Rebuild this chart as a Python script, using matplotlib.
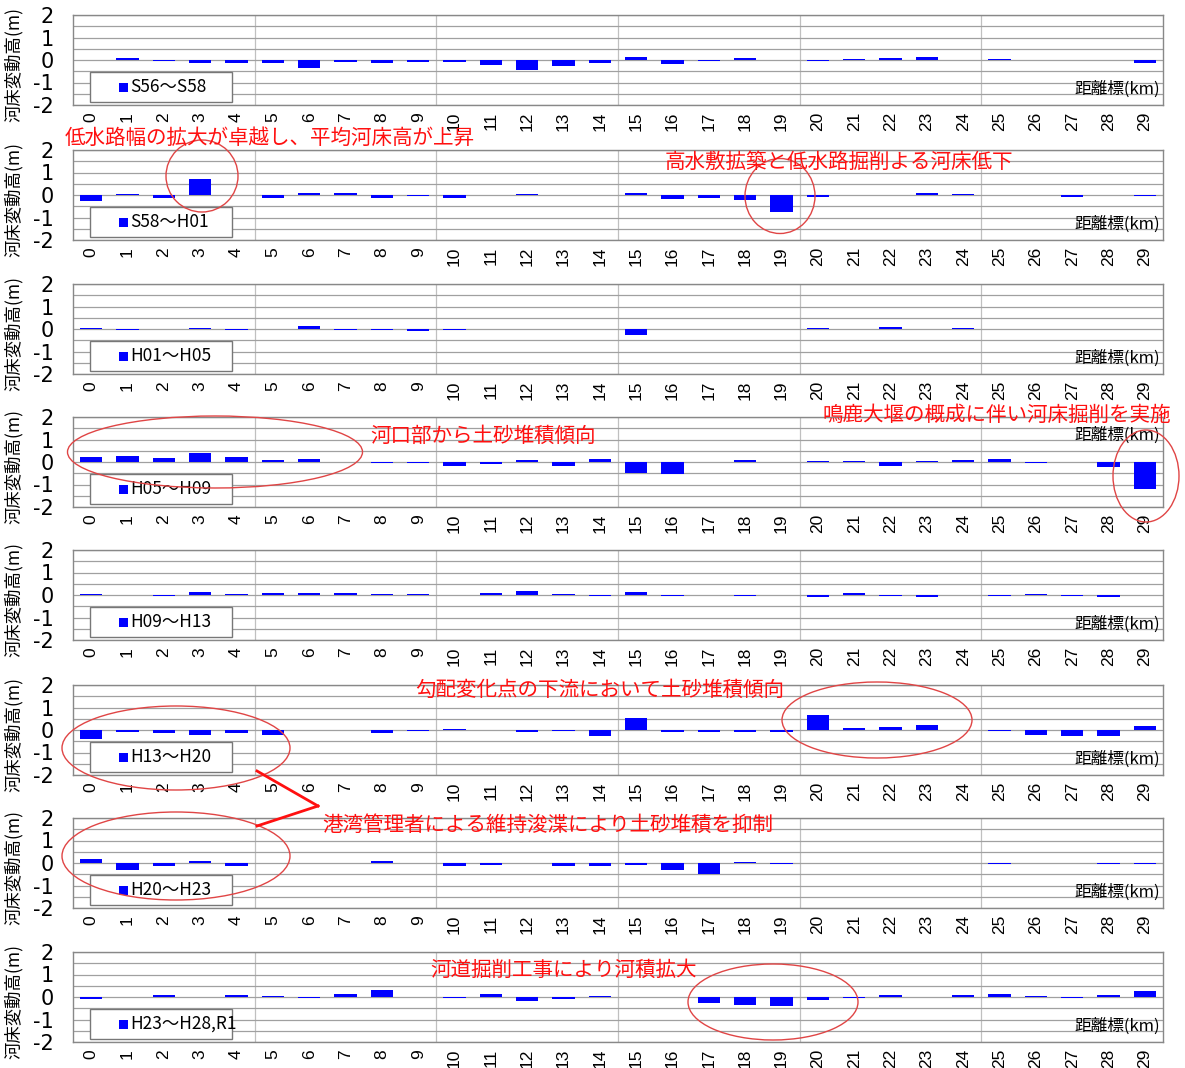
import matplotlib
matplotlib.use('Agg')
import matplotlib.pyplot as plt
from matplotlib.patches import Rectangle, Ellipse
from matplotlib.lines import Line2D

plt.rcParams['font.family'] = ['Noto Sans CJK JP', 'DejaVu Sans']

W, H = 1185, 1068

km_labels = [str(i) for i in range(30)]
periods = ["S56～S58", "S58～H01", "H01～H05", "H05～H09",
           "H09～H13", "H13～H20", "H20～H23", "H23～H28,R1"]

s56_s58 = [0.00, 0.08, -0.05, -0.15, -0.15, -0.13, -0.35, -0.08, -0.15, -0.10,
           -0.10, -0.22, -0.45, -0.27, -0.13, 0.14, -0.18, -0.03, 0.07, -0.02,
           -0.03, 0.04, 0.08, 0.12, 0.00, 0.03, -0.02, -0.02, -0.02, -0.15]
s58_h01 = [-0.25, 0.03, -0.12, 0.70, 0.02, -0.12, 0.10, 0.10, -0.12, -0.05,
           -0.15, 0.00, 0.03, -0.02, 0.00, 0.08, -0.18, -0.12, -0.22, -0.75,
           -0.08, 0.02, 0.00, 0.08, 0.03, 0.00, -0.02, -0.07, 0.00, -0.04]
h01_h05 = [0.05, -0.03, 0.00, 0.05, -0.03, 0.00, 0.15, -0.03, -0.05, -0.08,
           -0.05, 0.00, 0.00, 0.00, 0.00, -0.25, 0.00, 0.00, 0.00, 0.00,
           0.04, 0.00, 0.08, 0.00, 0.04, 0.02, 0.02, 0.02, 0.02, 0.02]
h05_h09 = [0.22, 0.28, 0.20, 0.38, 0.22, 0.10, 0.15, -0.02, -0.03, -0.04,
           -0.17, -0.08, 0.07, -0.18, 0.13, -0.47, -0.55, 0.00, 0.07, 0.00,
           0.06, 0.04, -0.18, 0.06, 0.08, 0.15, -0.05, 0.00, -0.20, -1.20]
h09_h13 = [0.03, 0.00, -0.03, 0.15, 0.05, 0.08, 0.08, 0.08, 0.05, 0.05,
           0.02, 0.08, 0.20, 0.05, -0.05, 0.15, -0.05, 0.02, -0.03, 0.00,
           -0.08, 0.08, -0.03, -0.08, 0.00, -0.05, 0.05, -0.03, -0.10, 0.00]
h13_h20 = [-0.40, -0.07, -0.15, -0.20, -0.12, -0.20, 0.00, -0.02, -0.12, -0.03,
           0.05, 0.00, -0.08, -0.03, -0.25, 0.55, -0.10, -0.10, -0.07, -0.08,
           0.65, 0.10, 0.13, 0.23, 0.02, -0.05, -0.20, -0.27, -0.27, 0.20]
h20_h23 = [0.17, -0.30, -0.15, 0.07, -0.12, 0.00, -0.02, 0.00, 0.08, 0.00,
           -0.12, -0.10, -0.02, -0.15, -0.12, -0.08, -0.33, -0.48, 0.05, -0.04,
           0.00, 0.00, 0.00, 0.00, 0.00, -0.03, 0.00, 0.00, -0.03, -0.03]
h23_r1 = [-0.08, 0.00, 0.08, 0.00, 0.10, 0.04, -0.03, 0.13, 0.30, 0.02,
          -0.05, 0.12, -0.18, -0.08, 0.06, -0.02, -0.02, -0.25, -0.37, -0.38,
          -0.15, -0.03, 0.08, 0.02, 0.08, 0.15, 0.05, -0.03, 0.08, 0.28]

series = [s56_s58, s58_h01, h01_h05, h05_h09, h09_h13, h13_h20, h20_h23, h23_r1]
ylabel = "河床変動高(m)"
xname = "距離標(km)"
yticks = [-2, -1, 0, 1, 2]

fig = plt.figure(figsize=(W / 100, H / 100), dpi=100)

ax_left, ax_right = 73, 1163
tops = [15, 150, 284, 417, 550, 685, 818, 952]
ax_h = 90
xname_pos = [0.17, 0.17, 0.17, 0.80, 0.17, 0.17, 0.17, 0.17]

grid_col = '#a0a0a0'
for i, (vals, lab) in enumerate(zip(series, periods)):
    top = tops[i]
    ax = fig.add_axes([ax_left / W, 1 - (top + ax_h) / H,
                       (ax_right - ax_left) / W, ax_h / H])
    x = list(range(len(vals)))
    ax.bar(x, vals, width=0.62, color='#0000ff', zorder=3)
    ax.set_xlim(-0.5, 29.5)
    ax.set_ylim(-2, 2)
    ax.set_yticks(yticks)
    ax.set_yticklabels([str(t) for t in yticks], fontsize=15,
                       family=['Liberation Sans Narrow', 'DejaVu Sans'])
    ax.set_yticks([-1.5, -0.5, 0.5, 1.5], minor=True)
    ax.set_xticks(x)
    ax.set_xticklabels(km_labels, rotation=90, fontsize=12.5,
                       family=['Liberation Sans', 'DejaVu Sans'])
    ax.tick_params(axis='x', length=0, pad=5)
    ax.tick_params(axis='y', which='both', length=0, pad=14)
    ax.grid(axis='y', which='both', color=grid_col, linewidth=0.9, zorder=0)
    for v in [4.5, 9.5, 14.5, 19.5, 24.5]:
        ax.axvline(v, color='#c0c0c0', linewidth=0.9, zorder=0)
    for s in ax.spines.values():
        s.set_color('#888888')
        s.set_linewidth(1.0)
    ax.set_ylabel(ylabel, fontsize=12.5)
    ax.yaxis.set_label_coords(-0.046, 0.45)
    # legend box
    ax.add_patch(Rectangle((0.0156, 0.035), 0.130, 0.33, transform=ax.transAxes,
                           facecolor='white', edgecolor='#777777', linewidth=1.0,
                           zorder=5))
    ax.add_patch(Rectangle((0.0425, 0.15), 0.0075, 0.10, transform=ax.transAxes,
                           facecolor='#0000ff', edgecolor='none', zorder=6))
    ax.text(0.0525, 0.20, lab, transform=ax.transAxes, fontsize=12.5,
            va='center', ha='left', zorder=6)
    ax.text(0.997, xname_pos[i], xname, transform=ax.transAxes, fontsize=12,
            va='center', ha='right', zorder=6)


def fx(px):
    return px / W


def fy(py):
    return 1 - py / H


red = '#ff1010'
notes = [
    ("低水路幅の拡大が卓越し、平均河床高が上昇", 65, 138),
    ("高水敷拡築と低水路掘削よる河床低下", 665, 162),
    ("河口部から土砂堆積傾向", 370, 436),
    ("鳴鹿大堰の概成に伴い河床掘削を実施", 822, 415),
    ("勾配変化点の下流において土砂堆積傾向", 415, 690),
    ("港湾管理者による維持浚渫により土砂堆積を抑制", 322, 825),
    ("河道掘削工事により河積拡大", 430, 970),
]
for t, px, py in notes:
    fig.text(fx(px), fy(py), t, color=red, fontsize=14.8, ha='left',
             va='center', zorder=10)

ellipses = [
    (202, 176, 72, 72),
    (780, 196, 70, 75),
    (215, 452, 295, 72),
    (1146, 476, 66, 92),
    (877, 720, 190, 76),
    (176, 748, 228, 84),
    (176, 856, 228, 88),
    (773, 1002, 170, 76),
]
for cx, cy, w, h in ellipses:
    fig.add_artist(Ellipse((fx(cx), fy(cy)), w / W, h / H,
                           transform=fig.transFigure, facecolor='none',
                           edgecolor='#e04545', linewidth=1.0, zorder=10))

for (x1, y1), (x2, y2) in [((257, 771), (318, 806)), ((257, 826), (318, 806))]:
    fig.add_artist(Line2D([fx(x1), fx(x2)], [fy(y1), fy(y2)],
                          transform=fig.transFigure, color=red, linewidth=2,
                          zorder=10))

fig.savefig('out.png', dpi=100)
